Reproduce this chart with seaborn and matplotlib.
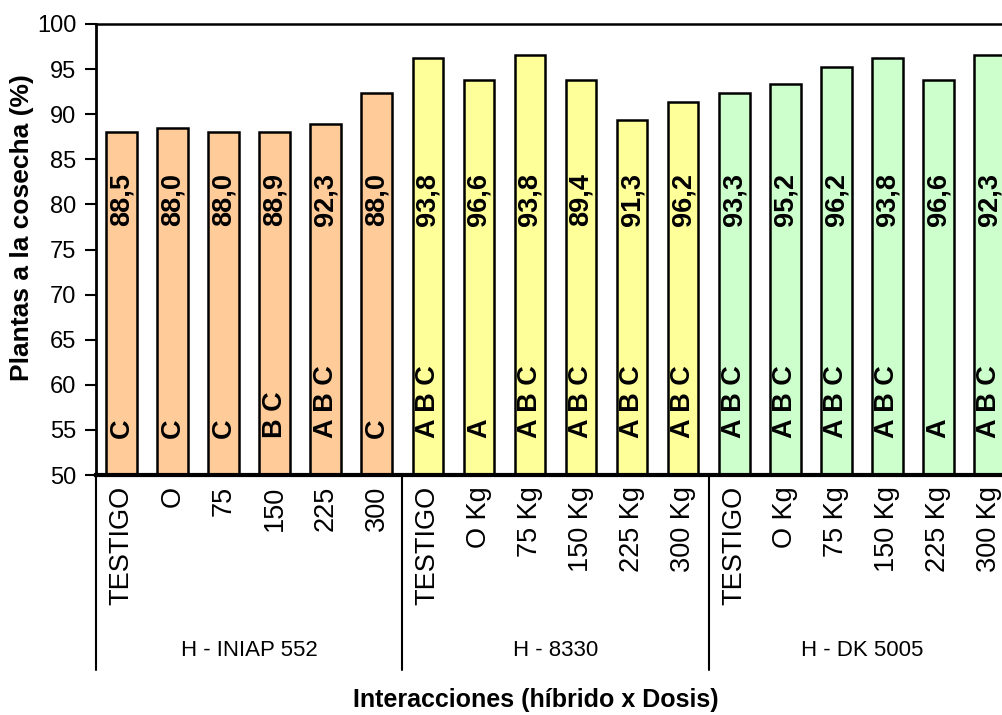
import matplotlib
matplotlib.use("Agg")
import matplotlib.pyplot as plt
import matplotlib.transforms as mtransforms
import seaborn as sns
import pandas as pd

# Hybrids and nitrogen doses
hibridos = ["H - INIAP 552", "H - 8330", "H - DK 5005"]
dosis_552 = ["TESTIGO", "O", "75", "150", "225", "300"]
dosis_kg = ["TESTIGO", "O Kg", "75 Kg", "150 Kg", "225 Kg", "300 Kg"]

# Plants at harvest (%) per hybrid x dose
plantas_552 = [88.0, 88.5, 88.0, 88.0, 88.9, 92.3]
plantas_8330 = [96.2, 93.8, 96.6, 93.8, 89.4, 91.3]
plantas_dk = [92.3, 93.3, 95.2, 96.2, 93.8, 96.6]

# Value labels printed inside the bars
etiquetas_552 = ["88,5", "88,0", "88,0", "88,9", "92,3", "88,0"]
etiquetas_8330 = ["93,8", "96,6", "93,8", "89,4", "91,3", "96,2"]
etiquetas_dk = ["93,3", "95,2", "96,2", "93,8", "96,6", "92,3"]

# Tukey grouping letters
letras_552 = ["C", "C", "C", "B C", "A B C", "C"]
letras_8330 = ["A B C", "A", "A B C", "A B C", "A B C", "A B C"]
letras_dk = ["A B C", "A B C", "A B C", "A B C", "A", "A B C"]

colores = {"H - INIAP 552": "#FFCC99", "H - 8330": "#FFFF99", "H - DK 5005": "#CCFFCC"}

dosis = [dosis_552, dosis_kg, dosis_kg]
valores = [plantas_552, plantas_8330, plantas_dk]
etiquetas = etiquetas_552 + etiquetas_8330 + etiquetas_dk
letras = letras_552 + letras_8330 + letras_dk

rows = []
for h, ds, vs in zip(hibridos, dosis, valores):
    for d, v in zip(ds, vs):
        rows.append({"clave": f"{h}|{d}", "hibrido": h, "dosis": d, "plantas": v})
df = pd.DataFrame(rows)

sns.set_style("white")
plt.rcParams["font.family"] = ["Liberation Sans", "DejaVu Sans"]
plt.rcParams.update({"text.color": "black", "axes.labelcolor": "black",
                     "xtick.color": "black", "ytick.color": "black"})

fig = plt.figure(figsize=(10.03, 7.15), dpi=100)
ax = fig.add_axes([96 / 1003, 1 - 475 / 715, (1015 - 96) / 1003, (475 - 24) / 715])

sns.barplot(data=df, x="clave", y="plantas", hue="hibrido", order=list(df["clave"]),
            hue_order=hibridos, palette=colores, dodge=False, width=0.6,
            edgecolor="black", linewidth=1.8, saturation=1, legend=False, ax=ax)

ax.set_ylim(50, 100)
ax.set_xlim(-0.5, len(df) - 0.5)
ax.set_yticks(range(50, 101, 5))
ax.tick_params(axis="y", which="major", direction="out", length=8, width=1.5,
               labelsize=17, pad=6, left=True, colors="black")
ax.set_xticks(range(len(df)))
ax.set_xticklabels(df["dosis"], rotation=90, fontsize=19.5, va="top", color="black")
ax.tick_params(axis="x", length=0, pad=8)
ax.set_xlabel("")
ax.set_ylabel("")

for side, lw in [("left", 2.0), ("bottom", 3.0), ("top", 1.8), ("right", 1.8)]:
    ax.spines[side].set_visible(True)
    ax.spines[side].set_color("black")
    ax.spines[side].set_linewidth(lw)

# Text inside each bar
for i, (et, le) in enumerate(zip(etiquetas, letras)):
    ax.text(i, 80.5, et, rotation=90, ha="center", va="center",
            fontsize=19.5, fontweight="bold", color="black")
    ax.text(i, 54.1, le, rotation=90, ha="center", va="bottom",
            fontsize=19.5, fontweight="bold", color="black")

# Hybrid group separators and names below the category axis
trans = mtransforms.blended_transform_factory(ax.transData, ax.transAxes)
for xb in [-0.5, 5.5, 11.5]:
    ax.plot([xb, xb], [0, -0.432], transform=trans, color="black",
            linewidth=1.5, clip_on=False)
for j, h in enumerate(hibridos):
    ax.text(j * 6 + 2.5, -0.39, h, transform=trans, ha="center", va="center",
            fontsize=16, color="black")

fig.text(22 / 1003, 1 - 228 / 715, "Plantas a la cosecha (%)", rotation=90,
         ha="center", va="center", fontsize=19, fontweight="bold", color="black")
fig.text(536 / 1003, 1 - 700 / 715, "Interacciones (híbrido x Dosis)",
         ha="center", va="center", fontsize=18, fontweight="bold", color="black")

fig.savefig("out.png", dpi=100)
